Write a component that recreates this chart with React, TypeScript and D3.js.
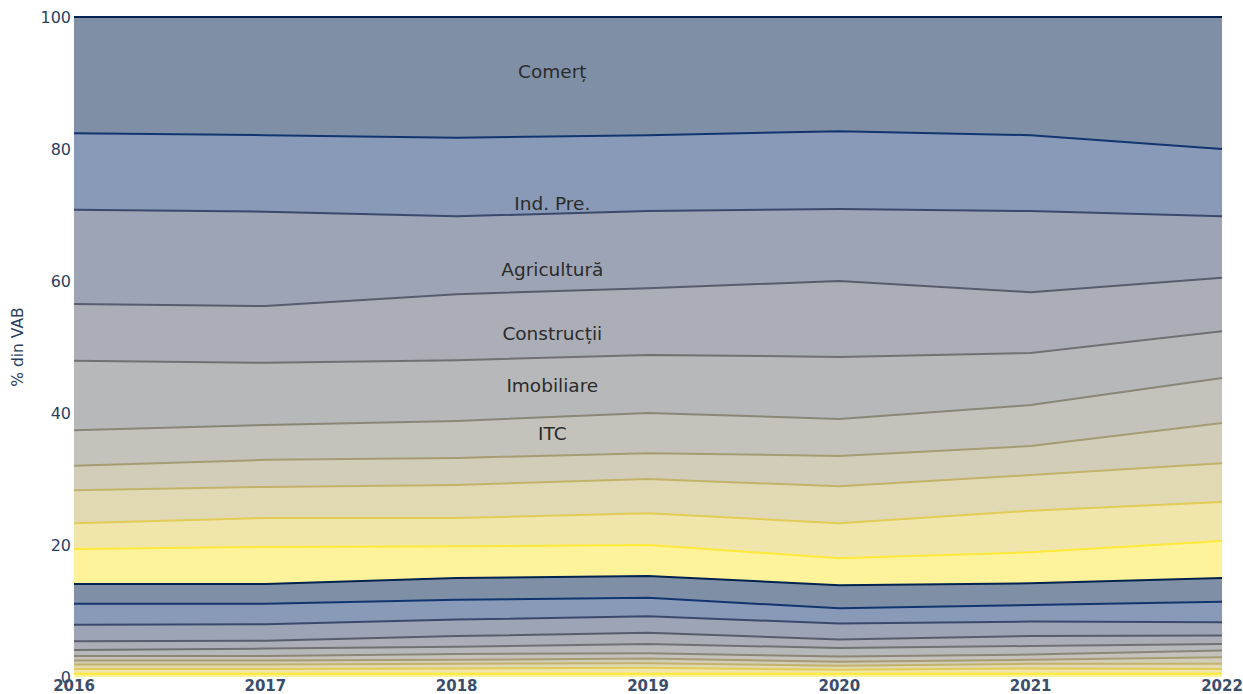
import React from "react";
import * as d3 from "d3";

const years = [2016, 2017, 2018, 2019, 2020, 2021, 2022];

// Shares (% din VAB), listed from the top layer of the stack to the bottom
const sComert = [17.6, 17.9, 18.3, 17.9, 17.3, 17.9, 20.0];
const sIndPre = [11.6, 11.6, 11.9, 11.5, 11.8, 11.5, 10.2];
const sAgricultura = [14.3, 14.3, 11.8, 11.7, 10.9, 12.3, 9.3];
const sConstructii = [8.6, 8.6, 10.0, 10.1, 11.5, 9.2, 8.1];
const sImobiliare = [10.5, 9.4, 9.2, 8.8, 9.4, 7.9, 7.1];
const sITC = [5.4, 5.3, 5.6, 6.1, 5.6, 6.2, 6.8];
const s07 = [3.7, 4.1, 4.1, 3.9, 4.6, 4.4, 6.1];
const s08 = [5.0, 4.7, 5.0, 5.2, 5.6, 5.4, 5.9];
const s09 = [3.9, 4.4, 4.3, 4.8, 5.3, 6.3, 5.9];
const s10 = [5.3, 5.6, 4.8, 4.7, 4.1, 4.7, 5.6];
const s11 = [3.0, 3.0, 3.3, 3.3, 3.5, 3.3, 3.6];
const s12 = [3.2, 3.1, 3.0, 2.8, 2.3, 2.5, 3.1];
const s13 = [2.5, 2.5, 2.5, 2.5, 2.4, 2.2, 2.0];
const s14 = [1.3, 1.2, 1.6, 1.7, 1.3, 1.5, 1.3];
const s15 = [0.9, 1.1, 1.1, 1.4, 1.3, 1.3, 1.0];
const s16 = [0.7, 0.7, 0.9, 0.8, 0.8, 0.8, 1.0];
const s17 = [0.6, 0.6, 0.6, 0.7, 0.6, 0.6, 1.0];
const s18 = [0.7, 0.7, 0.7, 0.7, 0.6, 0.7, 0.8];
const s19 = [0.7, 0.7, 0.8, 0.9, 0.6, 0.8, 0.7];
const s20 = [0.5, 0.5, 0.5, 0.5, 0.5, 0.5, 0.5];

const seriesNames = [
  "Comerț", "Ind. Pre.", "Agricultură", "Construcții", "Imobiliare", "ITC",
  "S7", "S8", "S9", "S10", "S11", "S12", "S13", "S14", "S15", "S16", "S17", "S18", "S19", "S20",
];
const seriesValues = [
  sComert, sIndPre, sAgricultura, sConstructii, sImobiliare, sITC,
  s07, s08, s09, s10, s11, s12, s13, s14, s15, s16, s17, s18, s19, s20,
];

const palette = [
  "#00224e", "#123570", "#3b496c", "#575d6d", "#707173",
  "#8a8678", "#a59c74", "#c3b369", "#e1cc55", "#fee838",
];

// In-chart labels (annotations)
const labelTexts = ["Comerț", "Ind. Pre.", "Agricultură", "Construcții", "Imobiliare", "ITC"];
const labelX = [2018.5, 2018.5, 2018.5, 2018.5, 2018.5, 2018.5];
const labelY = [91.7, 71.7, 61.7, 52.1, 44.1, 36.9];

const yTicks = [0, 20, 40, 60, 80, 100];

export default function App() {
  const W = 1243, H = 694;
  const m = { left: 74, right: 21, top: 17, bottom: 17 };
  const x = d3.scaleLinear().domain([2016, 2022]).range([m.left, W - m.right]);
  const y = d3.scaleLinear().domain([0, 100]).range([H - m.bottom, m.top]);

  // stack bottom -> top
  const bottomUp = seriesNames.map((_, i) => i).reverse();
  const rows = years.map((yr, j) => {
    const r: any = { year: yr };
    seriesNames.forEach((n, i) => (r[n] = seriesValues[i][j]));
    return r;
  });
  const stack = d3.stack<any>().keys(bottomUp.map((i) => seriesNames[i]))(rows);

  const area = d3
    .area<any>()
    .x((d) => x(d.data.year))
    .y0((d) => y(d[0]))
    .y1((d) => y(d[1]));
  const line = d3
    .line<any>()
    .x((d) => x(d.data.year))
    .y((d) => y(d[1]));

  const font = "'DejaVu Sans', Verdana, sans-serif";

  return (
    <div style={{ position: "fixed", left: 0, top: 0, width: W, height: H, background: "#fff" }}>
      <svg width={W} height={H} style={{ display: "block" }}>
        {stack.map((layer, k) => {
          const idx = bottomUp[k];
          const c = palette[idx % palette.length];
          return <path key={"a" + k} d={area(layer) || ""} fill={c} fillOpacity={0.5} stroke="none" />;
        })}
        {stack.map((layer, k) => {
          const idx = bottomUp[k];
          const c = palette[idx % palette.length];
          return <path key={"l" + k} d={line(layer) || ""} fill="none" stroke={c} strokeWidth={2} />;
        })}
        {labelTexts.map((t, i) => (
          <text
            key={t}
            x={x(labelX[i])}
            y={y(labelY[i])}
            textAnchor="middle"
            dominantBaseline="central"
            fontFamily={font}
            fontSize={18.5}
            fill="#2b2b2b"
          >
            {t}
          </text>
        ))}
        {yTicks.map((t) => (
          <text
            key={"y" + t}
            x={m.left - 3}
            y={y(t)}
            textAnchor="end"
            dominantBaseline="central"
            fontFamily={font}
            fontSize={16}
            fill="#2a3f5f"
          >
            {t}
          </text>
        ))}
        {years.map((yr) => (
          <text
            key={"x" + yr}
            x={x(yr)}
            y={H - 3}
            textAnchor="middle"
            fontFamily={font}
            fontSize={15}
            fontWeight="bold"
            fill="#3a4d6b"
          >
            {yr}
          </text>
        ))}
        <text
          transform={`translate(18,${(m.top + H - m.bottom) / 2}) rotate(-90)`}
          textAnchor="middle"
          dominantBaseline="central"
          fontFamily={font}
          fontSize={15.5}
          fill="#2a3f5f"
        >
          % din VAB
        </text>
      </svg>
    </div>
  );
}
